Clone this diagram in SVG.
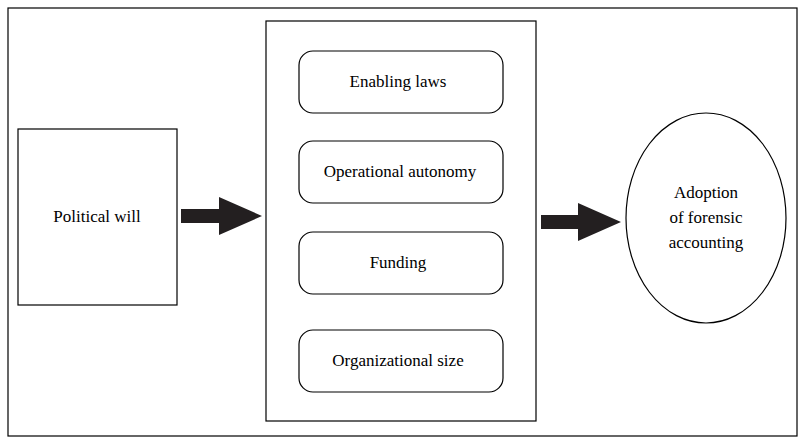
<svg xmlns="http://www.w3.org/2000/svg" width="805" height="444" viewBox="0 0 805 444">
<style>
.b{fill:#fff;stroke:#000;stroke-width:1.2}
text{font-family:"Liberation Serif",serif;font-size:17px;fill:#000;text-anchor:middle}
</style>
<rect x="0" y="0" width="805" height="444" fill="#fff"/>
<rect class="b" x="8" y="8" width="789" height="428"/>
<g id="political"><rect class="b" x="18" y="129" width="159" height="176"/><text x="97" y="222">Political will</text></g>
<g id="container"><rect class="b" x="266" y="21" width="270" height="400"/></g>
<g id="laws"><rect class="b" x="299" y="51" width="204" height="62" rx="14"/><text x="398" y="87">Enabling laws</text></g>
<g id="autonomy"><rect class="b" x="299" y="141" width="204" height="62" rx="14"/><text x="400" y="177">Operational autonomy</text></g>
<g id="funding"><rect class="b" x="299" y="232" width="204" height="62" rx="14"/><text x="398" y="268">Funding</text></g>
<g id="size"><rect class="b" x="299" y="330" width="204" height="62" rx="14"/><text x="398" y="366">Organizational size</text></g>
<g id="adoption"><ellipse class="b" cx="706" cy="218" rx="80" ry="105"/><text x="706" y="198">Adoption</text><text x="706" y="223">of forensic</text><text x="706" y="248">accounting</text></g>
<g id="connectors">
<polygon points="181,209 219,209 219,197 262,216 219,235 219,223 181,223" fill="#231f20"/>
<polygon points="541,215 578,215 578,203 621,222 578,241 578,229 541,229" fill="#231f20"/>
</g>
</svg>
